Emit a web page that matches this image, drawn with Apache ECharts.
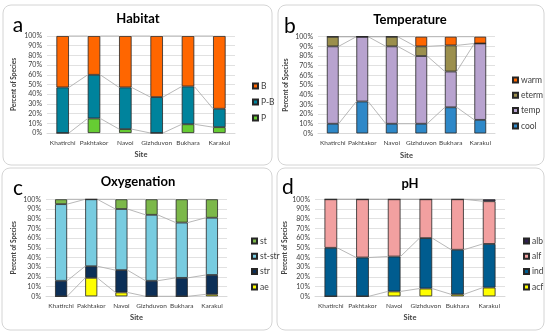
<!DOCTYPE html>
<html><head><meta charset="utf-8">
<script src="https://cdn.jsdelivr.net/npm/echarts@6/dist/echarts.min.js"></script>
<style>html,body{margin:0;padding:0;background:#fff}#c{width:550px;height:334px}</style>
</head><body><div id="c"></div>
<script>
const sites = ['Khatirchi','Pakhtakor','Navoi','Gizhduvon','Bukhara','Karakul'];
// Habitat
const habP  = [0,15,4,0,9,6];
const habPB = [47,45,43,37,39,19];
const habB  = [53,40,53,63,52,75];
// Temperature
const tempCool  = [10,33,10,10,27,14];
const tempTemp  = [80,67,80,70,37,79];
const tempEterm = [10,0,10,10,27,0];
const tempWarm  = [0,0,0,10,9,7];
// Oxygenation
const oxyAe    = [0,19,4,0,0,2];
const oxyStr   = [16,12,23,16,19,20];
const oxyStStr = [79,69,63,68,57,59];
const oxySt    = [5,0,10,16,24,19];
// pH
const phAcf = [0,0,5,8,2,9];
const phInd = [50,40,36,52,46,45];
const phAlf = [50,60,59,40,52,44];
const phAlb = [0,0,0,0,0,2];
const yMin = 0, yMax = 100, yStep = 10;

const FONT = 'Lato';
const panels = [
  {title:'Habitat', letter:'a', names:['P','P-B','B'], values:[habP,habPB,habB],
   colors:['#66CC33','#00839C','#FF6600'],
   grid:{left:47,top:36,width:188,height:97}, yGap:30, xGap:18, legend:{left:247,top:76,gap:6},
   box:[3,5,269,160], titleXY:[138,19], letterXY:[18,25]},
  {title:'Temperature', letter:'b', names:['cool','temp','eterm','warm'], values:[tempCool,tempTemp,tempEterm,tempWarm],
   colors:['#2E88C8','#B8A3CF','#9B8F4D','#FF6600'],
   grid:{left:318,top:36.7,width:177,height:96.7}, yGap:29, xGap:18, legend:{left:507,top:70,gap:5.3},
   box:[278,5,266,160], titleXY:[410,20], letterXY:[290,26]},
  {title:'Oxygenation', letter:'c', names:['ae','str','st-str','st'], values:[oxyAe,oxyStr,oxyStStr,oxySt],
   colors:['#FFFF00','#0C2F57','#78CCE0','#7CB84A'],
   grid:{left:46,top:199.3,width:181,height:97}, yGap:29, xGap:17, legend:{left:246,top:231,gap:5.3},
   box:[2,168,270,162], titleXY:[138,182], letterXY:[18,188]},
  {title:'pH', letter:'d', names:['acf','ind','alf','alb'], values:[phAcf,phInd,phAlf,phAlb],
   colors:['#FFFF00','#005C8F','#F2A0A0','#2E1E50'],
   grid:{left:315,top:199.3,width:190,height:97}, yGap:27, xGap:17, legend:{left:518,top:231,gap:5.3},
   box:[277,168,267,162], titleXY:[410,184], letterXY:[288,187]}
];

const option = {animation:false, grid:[], xAxis:[], yAxis:[], series:[], legend:[], graphic:[]};
panels.forEach((p,k)=>{
  option.grid.push(p.grid);
  option.xAxis.push({type:'category', gridIndex:k, data:sites, name:'Site', nameLocation:'middle', nameGap:p.xGap,
    nameTextStyle:{fontFamily:FONT,fontWeight:'bold',fontSize:7.5,color:'#404040'},
    axisLine:{show:true,lineStyle:{color:'#d9d9d9'}}, axisTick:{show:false},
    axisLabel:{fontFamily:FONT,fontSize:6.5,color:'#404040',margin:6,interval:0}});
  option.yAxis.push({type:'value', gridIndex:k, min:yMin, max:yMax, interval:yStep, name:'Percent of Species',
    nameLocation:'middle', nameGap:p.yGap,
    nameTextStyle:{fontFamily:FONT,fontWeight:'bold',fontSize:6.5,color:'#404040'},
    axisLine:{show:false}, axisTick:{show:false},
    splitLine:{lineStyle:{color:'#d9d9d9',width:0.8}},
    axisLabel:{fontFamily:FONT,fontSize:7,color:'#404040',margin:5,formatter:'{value}%'}});
  p.names.forEach((n,j)=>{
    option.series.push({type:'bar', name:n, xAxisIndex:k, yAxisIndex:k, stack:'s'+k, barWidth:'40%',
      data:p.values[j], itemStyle:{color:p.colors[j], borderColor:'#262626', borderWidth:0.8}, z:3});
  });
  // series lines (connectors between stacked tops)
  const data=[]; let cum=new Array(sites.length).fill(0);
  p.values.forEach(arr=>{ cum=cum.map((c,i)=>c+arr[i]); for(let i=0;i<sites.length-1;i++) data.push([i,cum[i],cum[i+1]]); });
  option.series.push({type:'custom', xAxisIndex:k, yAxisIndex:k, data, silent:true, z:2,
    encode:{x:0,y:[1,2]},
    renderItem:(params,api)=>{
      const i=api.value(0);
      const p1=api.coord([i,api.value(1)]), p2=api.coord([i+1,api.value(2)]);
      const hw=api.size([1,0])[0]*0.4/2;
      return {type:'line', shape:{x1:p1[0]+hw,y1:p1[1],x2:p2[0]-hw,y2:p2[1]}, style:{stroke:'#a6a6a6',lineWidth:0.8}};
    }});
  option.legend.push({orient:'vertical', left:p.legend.left, top:p.legend.top, itemGap:p.legend.gap,
    itemWidth:5, itemHeight:5, icon:'rect', data:p.names.slice().reverse(),
    textStyle:{fontFamily:FONT,fontSize:8.5,color:'#404040',lineHeight:10,padding:[0,0,0,-2]}});
  option.graphic.push({type:'rect', shape:{x:p.box[0],y:p.box[1],width:p.box[2],height:p.box[3],r:8},
    style:{fill:'none',stroke:'#d4d4d4',lineWidth:1}, z:-1, silent:true});
  option.graphic.push({type:'text', x:p.titleXY[0], y:p.titleXY[1], style:{text:p.title, fontFamily:FONT,
    fontWeight:'bold', fontSize:13, fill:'#000', align:'center', verticalAlign:'middle'}});
  option.graphic.push({type:'text', x:p.letterXY[0], y:p.letterXY[1], style:{text:p.letter, fontFamily:FONT,
    fontSize:21, fill:'#000', align:'center', verticalAlign:'middle'}});
});
const chart = echarts.init(document.getElementById('c'), null, {renderer:'canvas'});
chart.setOption(option);
</script></body></html>
